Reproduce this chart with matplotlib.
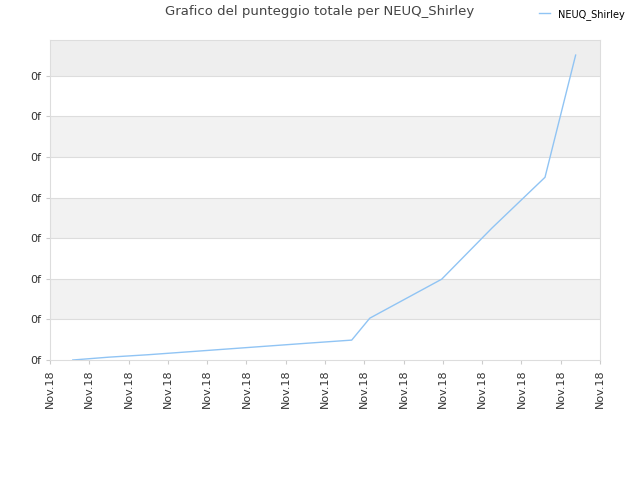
import matplotlib
matplotlib.use("Agg")
import matplotlib.pyplot as plt

x_vals = [0.58, 1.5, 2.5, 3.5, 4.5, 5.5, 6.5, 7.68, 8.14, 9.97, 11.25, 12.6, 13.38]
y_vals = [0.0, 0.07, 0.13, 0.2, 0.27, 0.34, 0.41, 0.49, 1.03, 1.99, 3.25, 4.5, 7.51]
x_labels = ["Nov.18"] * 15

fig = plt.figure(figsize=(6.4, 4.8), dpi=100)
ax = fig.add_axes([50/640, 1-360/480, 550/640, 320/480])
ymax = 320/40.6
ax.set_xlim(0, 14)
ax.set_ylim(0, ymax)
bands = [(0, 1, 'white'), (1, 2, '#f2f2f2'), (2, 3, 'white'), (3, 4, '#f2f2f2'),
         (4, 5, 'white'), (5, 6, '#f2f2f2'), (6, 7, 'white'), (7, ymax, '#eeeeee')]
for a, b, c in bands:
    ax.axhspan(a, b, color=c, zorder=0, lw=0)
for k in range(1, 8):
    ax.axhline(k, color='#dddddd', lw=0.8, zorder=1)
ax.plot(x_vals, y_vals, color='#90c4f4', lw=1, label='NEUQ_Shirley', zorder=3)
ax.set_yticks(range(8))
ax.set_yticklabels(['0f'] * 8, fontsize=8, color='#333333')
ax.set_xticks(range(15))
ax.set_xticklabels(x_labels, rotation=90, fontsize=8, color='#333333')
for s in ax.spines.values():
    s.set_color('#dddddd')
ax.tick_params(length=3, color='#cccccc')
fig.text(0.5, 1-12/480, 'Grafico del punteggio totale per NEUQ_Shirley', ha='center', va='center', fontsize=9.5, color='#444444')
fig.legend(loc='upper right', bbox_to_anchor=(0.99, 1.0), frameon=False, fontsize=7, handlelength=1.2)
fig.savefig('out.png', dpi=100)
